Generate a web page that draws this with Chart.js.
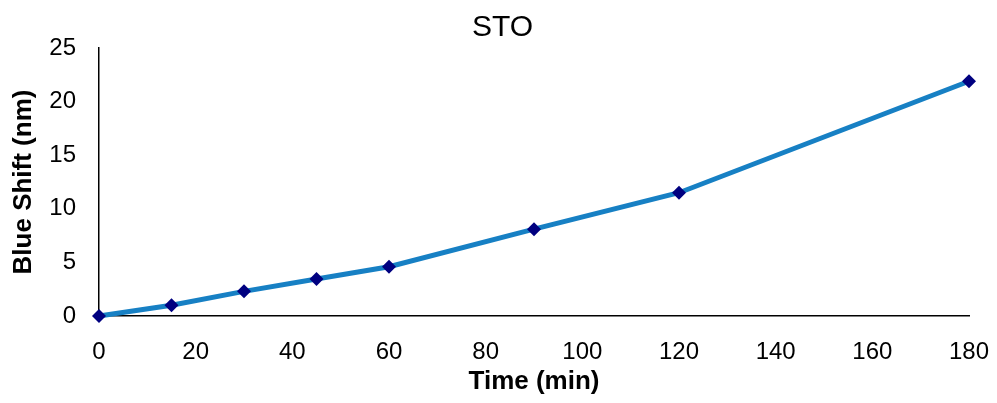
<!DOCTYPE html>
<html>
<head>
<meta charset="utf-8">
<script src="https://cdn.jsdelivr.net/npm/chart.js@4"></script>
<style>
  html, body { margin: 0; padding: 0; background: #fff; }
  #wrap { width: 997px; height: 403px; }
</style>
</head>
<body>
<div id="wrap"><canvas id="stoChart" width="997" height="403"></canvas></div>
<script>
// data
const time_min = [0, 15, 30, 45, 60, 90, 120, 180];
const blue_shift = [0, 1.0, 2.3, 3.45, 4.6, 8.1, 11.5, 21.9];

const points = time_min.map((t, i) => ({ x: t, y: blue_shift[i] }));

const ctx = document.getElementById("stoChart").getContext("2d");
const stoChart = new Chart(ctx, {
  type: "line",
  data: {
    datasets: [
      {
        label: "STO",
        data: points,
        borderColor: "#1780c4",
        borderWidth: 5,
        pointStyle: "rectRot",
        pointRadius: 7,
        pointBackgroundColor: "#000080",
        pointBorderColor: "#000080",
        pointBorderWidth: 0,
        tension: 0,
        clip: false,
      },
    ],
  },
  options: {
    responsive: false,
    animation: false,
    layout: { padding: { left: 8, right: 0, top: 0, bottom: 0 } },
    plugins: {
      legend: { display: false },
      tooltip: { enabled: false },
      title: {
        display: true,
        text: "STO",
        color: "#000",
        font: { family: "Liberation Sans", size: 30, weight: "normal" },
        padding: { top: 10, bottom: 2 },
      },
    },
    scales: {
      x: {
        type: "linear",
        min: 0,
        max: 180,
        grid: { display: false, drawTicks: false },
        border: { display: true, color: "#000", width: 1.5 },
        ticks: {
          stepSize: 20,
          padding: 22,
          color: "#000",
          font: { family: "Liberation Sans", size: 24 },
          maxRotation: 0,
        },
        title: {
          display: true,
          text: "Time (min)",
          color: "#000",
          font: { family: "Liberation Sans", size: 26, weight: "bold" },
          padding: { top: 0, bottom: 6 },
        },
        afterFit: (scale) => {
          scale.height = 87;
          scale.paddingRight = 28;
        },
      },
      y: {
        min: 0,
        max: 25,
        grid: { display: false, drawTicks: false },
        border: { display: true, color: "#000", width: 1.5 },
        ticks: {
          stepSize: 5,
          padding: 23,
          color: "#000",
          font: { family: "Liberation Sans", size: 24 },
        },
        title: {
          display: true,
          text: "Blue Shift (nm)",
          color: "#000",
          font: { family: "Liberation Sans", size: 26, weight: "bold" },
          padding: { top: 0, bottom: 0 },
        },
        afterFit: (scale) => { scale.width = 91; },
      },
    },
  },
});
</script>
</body>
</html>
